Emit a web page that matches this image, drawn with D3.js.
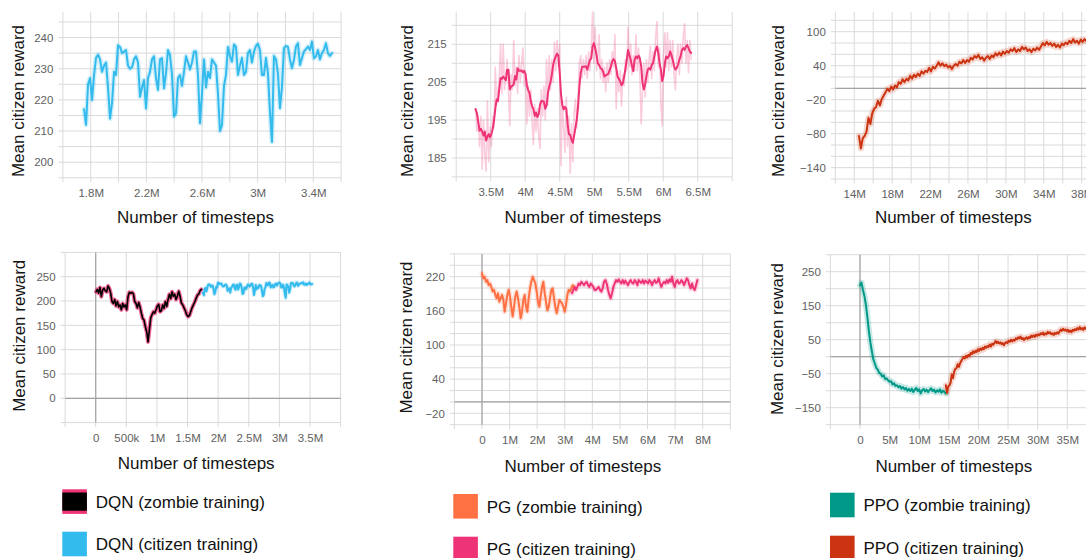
<!DOCTYPE html>
<html>
<head>
<meta charset="utf-8">
<script src="https://cdn.jsdelivr.net/npm/d3@7"></script>
<style>
  html, body { margin: 0; padding: 0; background: #ffffff; }
  svg { display: block; font-family: "Liberation Sans", Arial, sans-serif; }
</style>
</head>
<body>
<svg id="chart" width="1086" height="558"></svg>
<script>
// ---------------- data: mean citizen reward per logged timestep ----------------

// DQN, citizen training (smoothed)
const dqnCitizenStart = 1752000, dqnCitizenInterval = 14371;
const dqnCitizenReward = [
  217, 212, 225, 227, 220, 228, 233.5, 234.5, 233, 229, 231, 232, 224, 214, 219, 229, 228, 237.5, 237, 235,
  235.5, 236, 231, 230, 230.5, 233, 234, 232, 221, 224, 226.4, 217.3, 227, 229, 233, 234, 227, 223.2, 233, 233.4,
  223.7, 228.6, 236, 234.4, 228, 214.7, 215.7, 227, 228, 224.5, 229, 234, 232, 229.8, 232, 235.5, 235.5, 228, 212.5, 222,
  233, 224, 229, 227, 233, 232, 231, 222, 210, 212, 224.5, 228, 237, 234, 232.3, 237.8, 237, 228, 231, 233.5,
  228, 229, 235, 236, 232, 235.5, 237.3, 238, 236, 228, 228, 233.5, 228.6, 216.3, 206.5, 234.1, 233, 228.5, 217.3, 224,
  236.6, 237.3, 237, 233, 230.2, 232.8, 237.1, 238.2, 231.2, 233.4, 235.5, 236.3, 237.1, 236, 238.7, 233.4, 233.9, 236, 233, 235,
  236, 238.2, 235, 234.1, 235
];

// DQN, zombie training (smoothed)
const dqnZombieStart = 5000, dqnZombieInterval = 21786;
const dqnZombieReward = [
  219, 224, 216, 228, 209, 223, 226, 221, 219, 231, 226, 216, 199, 195, 203, 190, 199, 188, 192, 182,
  195, 188, 192, 182, 209, 218, 216, 218, 215, 199, 195, 186, 197, 188, 175, 164, 161, 147, 137, 116,
  140, 165, 172, 178, 175, 182, 190, 193, 178, 180, 192, 185, 199, 189, 203, 214, 205, 219, 210, 214,
  203, 210, 220, 210, 196, 192, 186, 180, 172, 168, 170, 178, 186, 192, 198, 205, 212, 214, 221, 224
];

// PG, citizen training, later run (smoothed and raw)
const pgCitizenLateStart = 3281000, pgCitizenLateInterval = 19048;
const pgCitizenLateReward = [
  197.9, 196.8, 194.5, 192.2, 192.7, 192.0, 190.9, 192.0, 189.6, 190.6, 191.3, 190.5, 191.3, 192.6, 194.8, 198.0, 200.4, 200.0, 203.1, 206.1,
  205.9, 206.5, 206.0, 205.5, 208.3, 208.3, 203.1, 203.8, 204.0, 204.5, 206.6, 205.7, 208.7, 208.0, 208.0, 208.1, 207.6, 208.0, 207.2, 204.2,
  202.9, 202.2, 200.0, 198.7, 197.9, 196.1, 197.0, 195.8, 196.5, 199.0, 200.0, 200.0, 199.8, 198.0, 198.8, 202.0, 203.8, 205.0, 207.0, 209.5,
  210.9, 211.8, 212.5, 212.0, 207.5, 201.8, 199.0, 197.8, 198.5, 198.0, 194.0, 191.3, 191.1, 189.8, 189.0, 191.0, 193.0, 195.2, 198.7, 204.0,
  207.5, 209.0, 209.1, 209.1, 209.2, 208.3, 209.6, 210.9, 211.3, 214.4, 215.3, 214.0, 212.2, 210.0, 209.5, 208.7, 208.5, 207.8, 206.5, 206.8,
  207.0, 207.2, 208.1, 209.2, 210.5, 211.1, 210.6, 208.7, 206.5, 205.9, 205.2, 204.2, 204.7, 206.4, 208.5, 210.9, 213.5, 212.2, 210.9, 209.2,
  207.9, 210.9, 211.8, 211.3, 212.0, 211.3, 209.2, 204.8, 203.1, 204.4, 206.6, 208.3, 208.7, 208.3, 209.6, 210.0, 211.8, 213.5, 214.4, 212.7,
  210.0, 208.3, 205.3, 206.6, 210.0, 211.8, 211.3, 211.8, 213.1, 212.2, 210.9, 209.2, 208.3, 208.7, 209.6, 210.9, 211.8, 213.5, 214.0, 213.5,
  214.4, 214.8, 214.0, 213.1, 212.7
];
const pgCitizenLateRaw = [
  198, 192, 196, 188, 196, 182, 195, 186, 181.5, 200, 184, 193, 188, 196, 193, 209, 199, 203, 206, 215,
  202, 215, 203, 206, 211, 203, 193.5, 207, 203, 216, 204, 209, 202, 212, 205, 210, 214, 204, 207, 194,
  204, 196, 203, 195, 188.5, 199, 192, 198, 191, 187.5, 203, 196, 204, 195, 211, 199, 212, 203, 211, 205,
  215.5, 208, 216, 209, 215, 183, 200, 193, 186.5, 201, 188, 196, 181, 194, 184, 197, 200.5, 193, 202, 210,
  212, 206, 211, 207, 212, 206, 213, 208, 214, 223.5, 210, 219.5, 208, 212, 217.5, 206, 211, 205, 209, 202.5,
  210, 205, 211, 207, 213, 209, 217.5, 198, 208, 202.5, 208, 198.7, 207, 204, 211, 208, 219.5, 209, 215, 207,
  212, 208, 217.5, 208, 214, 207, 194, 203, 210, 201, 211, 205, 211, 214.5, 206, 213, 208, 217, 221, 209,
  214, 199, 193.5, 212, 218, 209, 218, 208, 216, 209, 216, 207, 203, 211, 215, 207, 215, 210, 217, 220.5,
  210, 216, 207.5, 216, 211
];

// PG, zombie training (smoothed)
const pgZombieStart = 0, pgZombieInterval = 48340;
const pgZombieReward = [
  226, 217, 220, 211, 214, 205, 208, 202, 194, 197, 188, 182, 191, 176, 182, 188, 180, 158.5, 173, 188,
  197, 185, 167, 150, 167, 185, 194, 182, 167, 147, 158.5, 179, 188, 167, 158.5, 182, 199.5, 211, 220, 214,
  208, 194, 176, 167, 185, 202, 211, 191, 176, 161, 167, 182, 197, 199.5, 182, 167, 155.6, 167, 179, 176,
  173, 167, 158.5, 170, 188, 197, 194, 199.5, 205, 202
];

// PG, citizen training (smoothed)
const pgCitizenStart = 3263000, pgCitizenInterval = 48340;
const pgCitizenReward = [
  191, 196.6, 202, 196.6, 202, 208, 205, 211, 208, 205, 209, 211, 205, 202, 208, 205, 202, 196.6, 196.6, 199.5,
  202, 196.6, 193.7, 199.5, 211, 214, 208, 196.6, 188, 182, 191, 202, 208, 214, 211, 215, 211, 208, 214, 208,
  213, 209, 205, 211, 214, 209, 208, 214, 211, 205, 214, 211, 209, 214, 208, 213, 211, 208, 214, 211,
  205, 211, 214, 209, 211, 217, 208, 202, 208, 211, 208, 214, 209, 215, 211, 220, 208, 202, 211, 214,
  208, 209, 214, 211, 205, 211, 217, 214, 205, 199.5, 208, 199.5, 196.6, 205, 214
];

// PPO, citizen training (smoothed)
const ppoCitizenStart = 14500000, ppoCitizenInterval = 200000;
const ppoCitizenReward = [
  -84, -106, -88, -84, -76, -52, -63, -44, -36, -33, -22, -30, -19, -13, -7, -1, -5, 3, -2, 5,
  2, 11, 8, 16, 11, 17, 14, 22, 17, 24, 20, 26, 22, 30, 26, 31, 29, 36, 30, 38,
  35, 40, 46, 40, 44, 39, 42, 37, 40, 34, 40, 43, 40, 47, 44, 50, 45, 50, 47, 54,
  51, 57, 54, 59, 52, 55, 49, 54, 57, 52, 58, 55, 62, 58, 63, 58, 65, 61, 66, 63,
  69, 66, 71, 64, 69, 66, 73, 69, 72, 66, 69, 64, 70, 67, 72, 68, 74, 80, 76, 82,
  77, 80, 75, 79, 73, 77, 72, 79, 76, 81, 78, 84, 80, 87, 81, 84, 79, 86, 82, 87,
  83, 86, 82, 87, 84, 88, 85, 88
];

// PPO, zombie training (smoothed)
const ppoZombieStart = 0, ppoZombieInterval = 250000;
const ppoZombieReward = [
  210, 218, 196, 178, 152, 115, 75, 42, 16, -8, -20, -33, -38, -48, -50, -58, -55, -66, -64, -70,
  -74, -72, -82, -78, -86, -84, -90, -86, -94, -89, -96, -92, -100, -95, -101, -94, -104, -97, -92, -101,
  -96, -108, -99, -95, -102, -97, -104, -98, -93, -101, -97, -105, -99, -103, -96, -106, -100, -104, -108
];

// ---------------- tick values and labels ----------------
const p1XTicks = [1.8e6, 2.2e6, 2.6e6, 3.0e6, 3.4e6];
const p1XLabels = ["1.8M", "2.2M", "2.6M", "3M", "3.4M"];
const p1YTicks = [200, 210, 220, 230, 240];

const p2XTicks = [3.5e6, 4e6, 4.5e6, 5e6, 5.5e6, 6e6, 6.5e6];
const p2XLabels = ["3.5M", "4M", "4.5M", "5M", "5.5M", "6M", "6.5M"];
const p2YTicks = [185, 195, 205, 215];

const p3XTicks = [14e6, 18e6, 22e6, 26e6, 30e6, 34e6, 38e6];
const p3XLabels = ["14M", "18M", "22M", "26M", "30M", "34M", "38M"];
const p3YTicks = [-140, -80, -20, 40, 100];

const p4XTicks = [0, 0.5e6, 1e6, 1.5e6, 2e6, 2.5e6, 3e6, 3.5e6];
const p4XLabels = ["0", "500k", "1M", "1.5M", "2M", "2.5M", "3M", "3.5M"];
const p4YTicks = [0, 50, 100, 150, 200, 250];

const p5XTicks = [0, 1e6, 2e6, 3e6, 4e6, 5e6, 6e6, 7e6, 8e6];
const p5XLabels = ["0", "1M", "2M", "3M", "4M", "5M", "6M", "7M", "8M"];
const p5YTicks = [-20, 40, 100, 160, 220];

const p6XTicks = [0, 5e6, 10e6, 15e6, 20e6, 25e6, 30e6, 35e6];
const p6XLabels = ["0", "5M", "10M", "15M", "20M", "25M", "30M", "35M"];
const p6YTicks = [-150, -50, 50, 150, 250];

// legend entries
const legendLabels = [
  "DQN (zombie training)", "DQN (citizen training)",
  "PG (zombie training)", "PG (citizen training)",
  "PPO (zombie training)", "PPO (citizen training)"
];

// ---------------- colours ----------------
const C = {
  dqnCitizen: "#33bbee",
  dqnZombieEdge: "#ee3377",
  dqnZombie: "#000000",
  pgZombie: "#ff7043",
  pgCitizen: "#ee3377",
  ppoZombie: "#009988",
  ppoCitizen: "#cc3311"
};

function series(start, interval, values) {
  return values.map((v, i) => [start + i * interval, v]);
}

const dqnCitizen = series(dqnCitizenStart, dqnCitizenInterval, dqnCitizenReward);
const dqnZombie = series(dqnZombieStart, dqnZombieInterval, dqnZombieReward);
const pgCitizenLate = series(pgCitizenLateStart, pgCitizenLateInterval, pgCitizenLateReward);
const pgCitizenLateRawPts = series(pgCitizenLateStart, pgCitizenLateInterval, pgCitizenLateRaw);
const pgZombie = series(pgZombieStart, pgZombieInterval, pgZombieReward);
const pgCitizen = series(pgCitizenStart, pgCitizenInterval, pgCitizenReward);
const ppoCitizen = series(ppoCitizenStart, ppoCitizenInterval, ppoCitizenReward);
const ppoZombie = series(ppoZombieStart, ppoZombieInterval, ppoZombieReward);

// ---------------- panel layout ----------------
const panels = [
  { left: 62.9, right: 341.1, top: 11.7, bottom: 177.8, xDomain: [1.6e6, 3.6e6], yDomain: [195, 248.3],
    xStep: 0.2e6, yStep: 5, xTicks: p1XTicks, xLabels: p1XLabels, yTicks: p1YTicks,
    yTitle: [18.3, 101], xTitle: [195.5, 222.5],
    lines: [ { pts: dqnCitizen, color: C.dqnCitizen, width: 2, halo: { color: C.dqnCitizen, width: 5, opacity: 0.22 } } ] },
  { left: 456.2, right: 732.2, top: 11.7, bottom: 176.9, xDomain: [3e6, 7e6], yDomain: [180, 223.6],
    xStep: 0.5e6, yStep: 5, xTicks: p2XTicks, xLabels: p2XLabels, yTicks: p2YTicks,
    yTitle: [407, 101], xTitle: [582.8, 222.5],
    lines: [ { pts: pgCitizenLateRawPts, color: C.pgCitizen, width: 1.6, opacity: 0.25 },
             { pts: pgCitizenLate, color: C.pgCitizen, width: 2 } ] },
  { left: 835.3, right: 1119.6, top: 11.7, bottom: 179.0, xDomain: [12e6, 42e6], yDomain: [-160, 135.3],
    xStep: 2e6, yStep: 20, xTicks: p3XTicks, xLabels: p3XLabels, yTicks: p3YTicks,
    yTitle: [777.5, 101], xTitle: [953.3, 222.5],
    lines: [ { pts: ppoCitizen, color: C.ppoCitizen, width: 2, halo: { color: C.ppoCitizen, width: 6, opacity: 0.2 } } ] },
  { left: 65.1, right: 340.6, top: 252.4, bottom: 422.6, xDomain: [-0.5e6, 4e6], yDomain: [-50, 300],
    xStep: 0.5e6, yStep: 50, xTicks: p4XTicks, xLabels: p4XLabels, yTicks: p4YTicks,
    yTitle: [19.3, 335.8], xTitle: [196.2, 469],
    lines: [ { pts: dqnZombie, color: C.dqnZombie, width: 1.6, halo: { color: C.dqnZombieEdge, width: 4, opacity: 0.75 } },
             { pts: dqnCitizen, color: C.dqnCitizen, width: 2, halo: { color: C.dqnCitizen, width: 4, opacity: 0.25 } } ] },
  { left: 454.4, right: 730.3, top: 253.9, bottom: 424.7, xDomain: [-1e6, 9e6], yDomain: [-40, 260],
    xStep: 1e6, yStep: 20, xTicks: p5XTicks, xLabels: p5XLabels, yTicks: p5YTicks,
    yTitle: [406.3, 337.5], xTitle: [582.8, 471.5],
    lines: [ { pts: pgZombie, color: C.pgZombie, width: 2, halo: { color: C.pgZombie, width: 5, opacity: 0.2 } },
             { pts: pgCitizen, color: C.pgCitizen, width: 2, halo: { color: C.pgCitizen, width: 5, opacity: 0.2 } } ] },
  { left: 830.4, right: 1126.5, top: 254.7, bottom: 424.7, xDomain: [-5e6, 45e6], yDomain: [-200, 300],
    xStep: 5e6, yStep: 50, xTicks: p6XTicks, xLabels: p6XLabels, yTicks: p6YTicks,
    yTitle: [777, 339], xTitle: [953.8, 471.5],
    lines: [ { pts: ppoZombie, color: C.ppoZombie, width: 2, halo: { color: C.ppoZombie, width: 6, opacity: 0.22 } },
             { pts: ppoCitizen, color: C.ppoCitizen, width: 2, halo: { color: C.ppoCitizen, width: 6, opacity: 0.2 } } ] }
];

// ---------------- drawing ----------------
const svg = d3.select("#chart");
const defs = svg.append("defs");

function gridValues(domain, step) {
  const lo = Math.ceil(domain[0] / step - 1e-6);
  const hi = Math.floor(domain[1] / step + 1e-6);
  return d3.range(lo, hi + 1).map(k => k * step);
}

panels.forEach((p, pi) => {
  const x = d3.scaleLinear().domain(p.xDomain).range([p.left, p.right]);
  const y = d3.scaleLinear().domain(p.yDomain).range([p.bottom, p.top]);
  const g = svg.append("g").attr("class", "panel");

  const clipId = "plot-clip-" + pi;
  defs.append("clipPath").attr("id", clipId).append("rect")
    .attr("x", p.left).attr("y", p.top - 2)
    .attr("width", p.right - p.left).attr("height", p.bottom - p.top + 4);

  // horizontal grid lines (with short tick stubs on the left)
  g.append("g").selectAll("line").data(gridValues(p.yDomain, p.yStep)).join("line")
    .attr("x1", p.left - 4.5).attr("x2", p.right)
    .attr("y1", d => y(d)).attr("y2", d => y(d))
    .attr("stroke", "#dadada").attr("stroke-width", 1);

  // vertical grid lines (with short tick stubs below)
  g.append("g").selectAll("line").data(gridValues(p.xDomain, p.xStep)).join("line")
    .attr("x1", d => x(d)).attr("x2", d => x(d))
    .attr("y1", p.top).attr("y2", p.bottom + 4.5)
    .attr("stroke", "#dadada").attr("stroke-width", 1);

  // zero lines
  if (p.yDomain[0] < 0 && p.yDomain[1] > 0) {
    g.append("line").attr("x1", p.left).attr("x2", p.right)
      .attr("y1", y(0)).attr("y2", y(0))
      .attr("stroke", "#a3a3a3").attr("stroke-width", 1.2);
  }
  if (p.xDomain[0] < 0 && p.xDomain[1] > 0) {
    g.append("line").attr("x1", x(0)).attr("x2", x(0))
      .attr("y1", p.top).attr("y2", p.bottom)
      .attr("stroke", "#a3a3a3").attr("stroke-width", 1.2);
  }

  // axes: labels only
  const xAxis = d3.axisBottom(x).tickValues(p.xTicks)
    .tickFormat((d, i) => p.xLabels[i]).tickSize(0).tickPadding(10.8);
  const xg = g.append("g").attr("transform", `translate(0,${p.bottom})`).call(xAxis);
  xg.select(".domain").remove();
  xg.selectAll("text").attr("font-size", "11.5px").attr("fill", "#616161")
    .attr("font-family", '"Liberation Sans", Arial, sans-serif');

  const yAxis = d3.axisLeft(y).tickValues(p.yTicks).tickSize(0).tickPadding(9.5);
  const yg = g.append("g").attr("transform", `translate(${p.left},0)`).call(yAxis);
  yg.select(".domain").remove();
  yg.selectAll("text").attr("font-size", "11.5px").attr("fill", "#616161")
    .attr("font-family", '"Liberation Sans", Arial, sans-serif');

  // series
  const line = d3.line().x(d => x(d[0])).y(d => y(d[1]));
  const plot = g.append("g").attr("clip-path", `url(#${clipId})`);
  p.lines.forEach(s => {
    if (s.halo) {
      plot.append("path").datum(s.pts).attr("d", line)
        .attr("fill", "none").attr("stroke", s.halo.color)
        .attr("stroke-width", s.halo.width).attr("stroke-opacity", s.halo.opacity)
        .attr("stroke-linejoin", "round").attr("stroke-linecap", "round");
    }
  });
  p.lines.forEach(s => {
    plot.append("path").datum(s.pts).attr("d", line)
      .attr("fill", "none").attr("stroke", s.color)
      .attr("stroke-width", s.width).attr("stroke-opacity", s.opacity == null ? 1 : s.opacity)
      .attr("stroke-linejoin", "round").attr("stroke-linecap", "round");
  });

  // axis titles
  g.append("text")
    .attr("transform", `translate(${p.yTitle[0] + 6},${p.yTitle[1]}) rotate(-90)`)
    .attr("text-anchor", "middle").attr("font-size", "17px").attr("fill", "#151515")
    .text("Mean citizen reward");
  g.append("text")
    .attr("x", p.xTitle[0]).attr("y", p.xTitle[1])
    .attr("text-anchor", "middle").attr("font-size", "17px").attr("fill", "#151515")
    .text("Number of timesteps");
});

// ---------------- legend ----------------
const legendItems = [
  { label: legendLabels[0], x: 62.3, y: 489.3, fill: C.dqnZombie, edge: C.dqnZombieEdge },
  { label: legendLabels[1], x: 62.3, y: 531.7, fill: C.dqnCitizen },
  { label: legendLabels[2], x: 453.3, y: 494.0, fill: C.pgZombie },
  { label: legendLabels[3], x: 453.3, y: 536.7, fill: C.pgCitizen },
  { label: legendLabels[4], x: 830.0, y: 492.7, fill: C.ppoZombie },
  { label: legendLabels[5], x: 830.0, y: 535.7, fill: C.ppoCitizen }
];
const sw = 24.6, sh = 24.6;
const lg = svg.append("g").attr("class", "legend");
legendItems.forEach(it => {
  const item = lg.append("g");
  if (it.edge) {
    item.append("rect").attr("x", it.x).attr("y", it.y).attr("width", sw).attr("height", sh).attr("fill", it.edge);
    item.append("rect").attr("x", it.x).attr("y", it.y + 3.2).attr("width", sw).attr("height", sh - 6.4).attr("fill", it.fill);
  } else {
    item.append("rect").attr("x", it.x).attr("y", it.y).attr("width", sw).attr("height", sh).attr("fill", it.fill);
  }
  item.append("text")
    .attr("x", it.x + 33.4).attr("y", it.y + sh / 2 + 6.2)
    .attr("font-size", "17px").attr("fill", "#111111")
    .text(it.label);
});
</script>
</body>
</html>
